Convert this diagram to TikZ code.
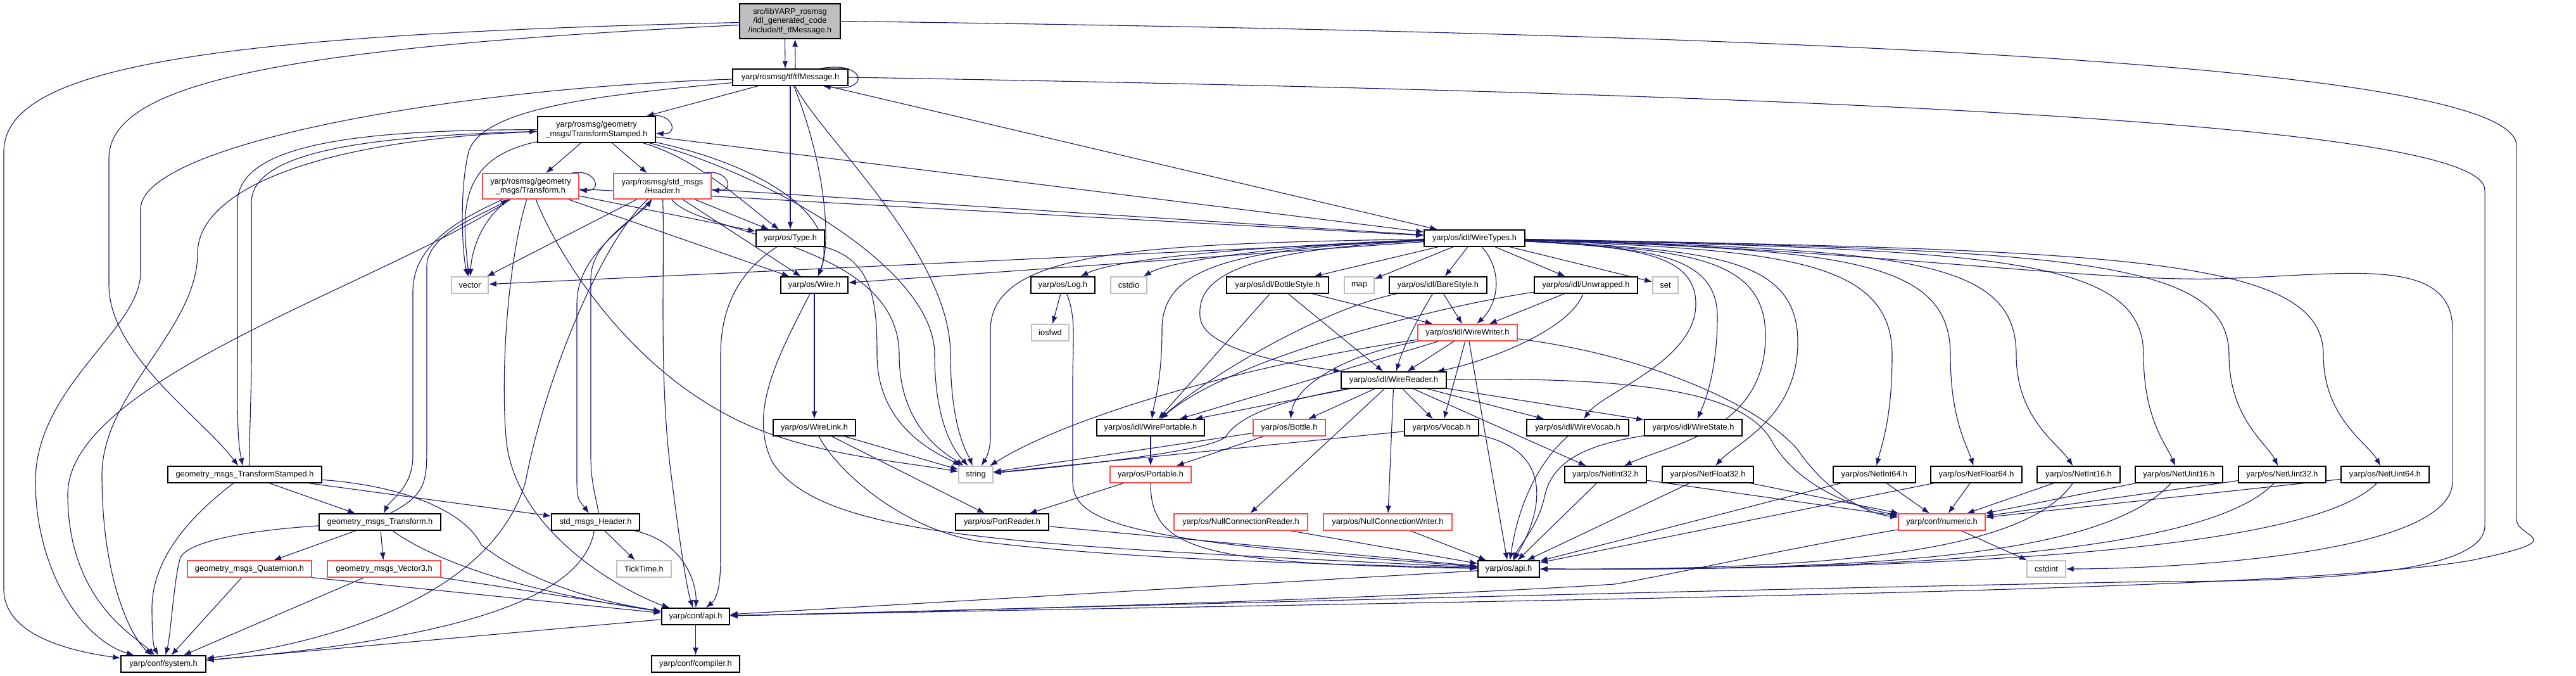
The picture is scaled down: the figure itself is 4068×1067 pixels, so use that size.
\documentclass[tikz,border=0pt]{standalone}
\usepackage{fontspec}
\setmainfont{Liberation Sans}
\usetikzlibrary{arrows.meta,backgrounds}
\definecolor{edgeblue}{HTML}{191970}
\definecolor{nodered}{HTML}{FF4A4A}
\definecolor{nodegray}{HTML}{BFBFBF}
\definecolor{rootgray}{HTML}{BFBFBF}
\newcommand\nfont{\fontsize{12.8pt}{14.5pt}\selectfont}
\tikzset{
  nb/.style={draw=black, line width=1.4pt, fill=white, inner sep=0pt, align=center, font=\nfont, minimum height=26pt},
  nred/.style={nb, draw=nodered},
  ngry/.style={nb, draw=nodegray},
  e/.style={draw=edgeblue, line width=1.1pt, -{Latex[length=12pt,width=9pt]}},
}
\begin{document}
\begin{tikzpicture}[x=1pt,y=-1pt]
\useasboundingbox (0,0) rectangle (4068,1067);

% ---------------- nodes ----------------
\node[nb, fill=rootgray, minimum width=159pt, minimum height=55pt] (root) at (1247.5,33.5) {src/libYARP\_rosmsg\\/idl\_generated\_code\\/include/tf\_tfMessage.h};
\node[nb, minimum width=182pt] (tfMsg) at (1248,122) {yarp/rosmsg/tf/tfMessage.h};
\node[nb, minimum width=186pt, minimum height=41pt] (rTS) at (942,204.5) {yarp/rosmsg/geometry\\\_msgs/TransformStamped.h};
\node[nred, minimum width=152pt, minimum height=40pt] (rT) at (838,294) {yarp/rosmsg/geometry\\\_msgs/Transform.h};
\node[nred, minimum width=154pt, minimum height=40pt] (rH) at (1046,294) {yarp/rosmsg/std\_msgs\\/Header.h};
\node[nb, minimum width=108pt] (Type) at (1248,376) {yarp/os/Type.h};
\node[nb, minimum width=159pt] (WireTypes) at (2328.5,376) {yarp/os/idl/WireTypes.h};
\node[ngry, minimum width=58pt] (vector) at (742,450) {vector};
\node[nb, minimum width=106pt] (Wire) at (1286,450) {yarp/os/Wire.h};
\node[nb, minimum width=101pt] (Log) at (1678.5,450) {yarp/os/Log.h};
\node[ngry, minimum width=57pt] (cstdio) at (1782.5,450) {cstdio};
\node[nb, minimum width=161pt] (BottleStyle) at (2017.5,450) {yarp/os/idl/BottleStyle.h};
\node[ngry, minimum width=47pt] (map) at (2146.5,450) {map};
\node[nb, minimum width=154pt] (BareStyle) at (2271,450) {yarp/os/idl/BareStyle.h};
\node[nb, minimum width=163pt] (Unwrapped) at (2504.5,450) {yarp/os/idl/Unwrapped.h};
\node[ngry, minimum width=40pt] (set) at (2630,450) {set};
\node[ngry, minimum width=59pt] (iosfwd) at (1658.5,525) {iosfwd};
\node[nred, minimum width=157pt] (WireWriter) at (2317.5,525) {yarp/os/idl/WireWriter.h};
\node[nb, minimum width=166pt] (WireReader) at (2201,600) {yarp/os/idl/WireReader.h};
\node[nb, minimum width=130pt] (WireLink) at (1286,675) {yarp/os/WireLink.h};
\node[nb, minimum width=170pt] (WirePortable) at (1817,675) {yarp/os/idl/WirePortable.h};
\node[nred, minimum width=114pt] (Bottle) at (2036,675) {yarp/os/Bottle.h};
\node[nb, minimum width=117pt] (Vocab) at (2276.5,675) {yarp/os/Vocab.h};
\node[nb, minimum width=161pt] (WireVocab) at (2491.5,675) {yarp/os/idl/WireVocab.h};
\node[nb, minimum width=154pt] (WireState) at (2674,675) {yarp/os/idl/WireState.h};
\node[nb, minimum width=243pt] (gTS) at (386.5,749) {geometry\_msgs\_TransformStamped.h};
\node[ngry, minimum width=54pt] (string) at (1541,749) {string};
\node[nred, minimum width=128pt] (Portable) at (1817,749) {yarp/os/Portable.h};
\node[nb, minimum width=129pt] (NetInt32) at (2535.5,749) {yarp/os/NetInt32.h};
\node[nb, minimum width=144pt] (NetFloat32) at (2697,749) {yarp/os/NetFloat32.h};
\node[nb, minimum width=130pt] (NetInt64) at (2960,749) {yarp/os/NetInt64.h};
\node[nb, minimum width=144pt] (NetFloat64) at (3121,749) {yarp/os/NetFloat64.h};
\node[nb, minimum width=131pt] (NetInt16) at (3282.5,749) {yarp/os/NetInt16.h};
\node[nb, minimum width=138pt] (NetUint16) at (3441,749) {yarp/os/NetUint16.h};
\node[nb, minimum width=138pt] (NetUint32) at (3604,749) {yarp/os/NetUint32.h};
\node[nb, minimum width=139pt] (NetUint64) at (3766.5,749) {yarp/os/NetUint64.h};
\node[nb, minimum width=192pt] (gT) at (600,824) {geometry\_msgs\_Transform.h};
\node[nb, minimum width=139pt] (sH) at (940.5,824) {std\_msgs\_Header.h};
\node[nb, minimum width=147pt] (PortReader) at (1582.5,824) {yarp/os/PortReader.h};
\node[nred, minimum width=211pt] (NCR) at (1959.5,824) {yarp/os/NullConnectionReader.h};
\node[nred, minimum width=203pt] (NCW) at (2191.5,824) {yarp/os/NullConnectionWriter.h};
\node[nred, minimum width=137pt] (numeric) at (3066.5,824) {yarp/conf/numeric.h};
\node[nred, minimum width=196pt] (gQ) at (394,898) {geometry\_msgs\_Quaternion.h};
\node[nred, minimum width=179pt] (gV) at (606.5,898) {geometry\_msgs\_Vector3.h};
\node[ngry, minimum width=86pt] (TickTime) at (1017,898) {TickTime.h};
\node[nb, minimum width=97pt] (osapi) at (2382.5,898) {yarp/os/api.h};
\node[ngry, minimum width=61pt] (cstdint) at (3231.5,898) {cstdint};
\node[nb, minimum width=107pt] (confapi) at (1098.5,973) {yarp/conf/api.h};
\node[nb, minimum width=134pt] (system) at (258,1048) {yarp/conf/system.h};
\node[nb, minimum width=139pt] (compiler) at (1098.5,1048) {yarp/conf/compiler.h};

\begin{scope}[on background layer]
\fill[white] (0,0) rectangle (4068,1067);
% root
\draw[e] ([xshift=-8pt]root.south) -- ([xshift=-8pt]tfMsg.north);
\draw[e] ([xshift=8pt]tfMsg.north) -- ([xshift=8pt]root.south);
\draw[e] ([yshift=-2pt]root.west) .. controls (300,55) and (6,110) .. (6,240) -- (6,930) .. controls (6,995) and (90,1025) .. (system);
\draw[e] ([yshift=-6pt]root.west) .. controls (450,75) and (172,130) .. (172,250) -- (172,450) .. controls (172,560) and (320,660) .. (gTS);
\draw[e] (root.east) .. controls (3000,55) and (3974,110) .. (3974,230) -- (3974,820) .. controls (3974,850) and (4070,850) .. (3900,885) .. controls (3600,935) and (2500,945) .. (confapi);
% tfMsg
\draw[e] (tfMsg.east) .. controls (3000,150) and (3924,200) .. (3924,300) -- (3924,830) .. controls (3924,900) and (3700,918) .. (3400,918) .. controls (2500,935) and (1600,962) .. (confapi);
\draw[e] ([xshift=-45pt]tfMsg.north east) .. controls +(75,-14) and +(75,12) .. ([xshift=-40pt]tfMsg.south east);
\draw[e] (tfMsg) -- (rTS);
\draw[e] (tfMsg) -- (Type);
\draw[e] (tfMsg) .. controls (1300,250) and (1315,380) .. (Wire);
\draw[e] (tfMsg) .. controls (1300,220) and (1501,400) .. (1501,560) .. controls (1501,680) and (1530,720) .. (string);
\draw[e] (tfMsg) .. controls (950,150) and (760,170) .. (740,240) .. controls (725,300) and (730,400) .. (vector);
\draw[e] (tfMsg) -- (WireTypes);
\draw[e] (tfMsg) .. controls (700,140) and (222,230) .. (222,330) -- (222,430) .. controls (222,520) and (56,610) .. (56,760) .. controls (56,900) and (130,1010) .. (system);
% rTS
\draw[e] (rTS) -- (rT);
\draw[e] (rTS) -- (rH);
\draw[e] ([xshift=-12pt]rTS.north east) .. controls +(38,-8) and +(38,2) .. ([yshift=-6pt]rTS.east);
\draw[e] (rTS) .. controls (1100,250) and (1175,320) .. (Type);
\draw[e] (rTS) .. controls (1200,260) and (1330,340) .. (Wire);
\draw[e] (rTS) -- (WireTypes);
\draw[e] (rTS) .. controls (720,250) and (730,340) .. (vector);
\draw[e] (rTS) .. controls (1200,270) and (1476,420) .. (1476,560) .. controls (1476,680) and (1515,720) .. (string);
\draw[e] (rTS) .. controls (600,205) and (375,220) .. (375,320) -- (375,620) .. controls (375,690) and (378,710) .. (gTS);
\draw[e] ([xshift=7pt]gTS.north) .. controls (394,680) and (397,620) .. (397,560) -- (397,320) .. controls (397,235) and (600,215) .. (rTS);
\draw[e] (rTS) .. controls (500,220) and (312,300) .. (312,400) .. controls (312,520) and (161,620) .. (161,750) .. controls (161,920) and (210,1010) .. (system);
% rT
\draw[e] ([xshift=-12pt]rT.north east) .. controls +(38,-8) and +(38,2) .. ([yshift=-6pt]rT.east);
\draw[e] (rT) .. controls (765,340) and (745,390) .. (vector);
\draw[e] (rT) -- (Type);
\draw[e] (rT) -- (Wire);
\draw[e] (rT) -- (WireTypes);
\draw[e] (rT) .. controls (740,340) and (652,380) .. (652,460) -- (652,720) .. controls (652,770) and (615,790) .. (gT);
\draw[e] ([xshift=16pt]gT.north) .. controls (674,780) and (674,760) .. (674,700) -- (674,420) .. controls (674,370) and (760,340) .. (rT);
\draw[e] (rT) .. controls (600,450) and (107,600) .. (107,780) .. controls (107,950) and (215,1005) .. (system);
\draw[e] (rT) .. controls (800,420) and (790,600) .. (800,700) .. controls (820,850) and (1000,940) .. (confapi);
\draw[e] (rT) .. controls (880,400) and (980,560) .. (1134,647) .. controls (1250,715) and (1400,725) .. (string);
% rH
\draw[e] ([xshift=-12pt]rH.north east) .. controls +(38,-8) and +(38,2) .. ([yshift=-6pt]rH.east);
\draw[e] (rH) -- (vector);
\draw[e] (rH) -- (Type);
\draw[e] (rH) -- (Wire);
\draw[e] (rH) -- (WireTypes);
\draw[e] (rH) .. controls (1100,370) and (1420,380) .. (1420,560) .. controls (1420,680) and (1500,720) .. (string);
\draw[e] (rH) .. controls (990,360) and (911,400) .. (911,480) -- (911,760) .. controls (911,790) and (915,790) .. (sH);
\draw[e] ([xshift=5pt]sH.north) .. controls (940,780) and (933,760) .. (933,720) -- (933,440) .. controls (933,380) and (1010,340) .. (rH);
\draw[e] (rH) .. controls (950,380) and (860,600) .. (830,760) .. controls (780,930) and (550,1010) .. (system);
\draw[e] (rH) .. controls (1050,420) and (1040,600) .. (1060,750) .. controls (1075,870) and (1085,930) .. (confapi);
% Type
\draw[e] (Type) .. controls (1380,410) and (1385,480) .. (1385,560) .. controls (1385,680) and (1490,720) .. (string);
\draw[e] (Type) .. controls (1180,420) and (1138,470) .. (1138,560) -- (1138,880) .. controls (1138,925) and (1132,945) .. (confapi);
% Wire, WireLink, Log
\draw[e] (Wire) -- (WireLink);
\draw[e] (Wire) .. controls (1230,560) and (1180,650) .. (1220,730) .. controls (1300,850) and (1600,860) .. (osapi);
\draw[e] (WireLink) -- (string);
\draw[e] (WireLink) -- (PortReader);
\draw[e] (WireLink) .. controls (1320,740) and (1420,835) .. (1550,855) .. controls (1800,885) and (2100,890) .. (osapi);
\draw[e] (Log) -- (iosfwd);
\draw[e] (Log) .. controls (1700,500) and (1694,540) .. (1694,600) -- (1694,760) .. controls (1694,830) and (1800,855) .. (osapi);
% WireTypes
\draw[e] (WireTypes) -- (vector);
\draw[e] (WireTypes) -- (Wire);
\draw[e] (WireTypes) .. controls (1950,390) and (1760,410) .. (Log);
\draw[e] (WireTypes) .. controls (2050,385) and (1850,410) .. (cstdio);
\draw[e] (WireTypes) -- (BottleStyle);
\draw[e] (WireTypes) -- (map);
\draw[e] (WireTypes) -- (BareStyle);
\draw[e] (WireTypes) -- (Unwrapped);
\draw[e] (WireTypes) -- (set);
\draw[e] (WireTypes) .. controls (2375,430) and (2365,480) .. (WireWriter);
\draw[e] (WireTypes) .. controls (1950,395) and (1890,440) .. (1895,500) .. controls (1900,560) and (2080,580) .. (WireReader);
\draw[e] (WireTypes) .. controls (1950,392) and (1835,420) .. (1835,520) .. controls (1835,600) and (1822,640) .. (WirePortable);
\draw[e] (WireTypes) .. controls (1800,385) and (1566,395) .. (1564,520) -- (1564,690) .. controls (1564,712) and (1556,725) .. (string);
\draw[e] (WireTypes) .. controls (2580,390) and (2678,400) .. (2678,480) .. controls (2678,570) and (2530,620) .. (WireVocab);
\draw[e] (WireTypes) .. controls (2600,392) and (2712,400) .. (2712,500) .. controls (2712,590) and (2690,640) .. (WireState);
\draw[e] (WireTypes) .. controls (2650,395) and (2788,400) .. (2788,530) .. controls (2788,680) and (2640,700) .. (NetInt32);
\draw[e] (WireTypes) .. controls (2700,395) and (2839,405) .. (2839,540) .. controls (2839,660) and (2740,700) .. (NetFloat32);
\draw[e] (WireTypes) .. controls (2800,395) and (2988,405) .. (2988,560) .. controls (2988,660) and (2972,700) .. (NetInt64);
\draw[e] (WireTypes) .. controls (2900,395) and (3080,405) .. (3080,560) .. controls (3080,660) and (3105,700) .. (NetFloat64);
\draw[e] (WireTypes) .. controls (3000,395) and (3184,405) .. (3184,560) .. controls (3184,660) and (3250,700) .. (NetInt16);
\draw[e] (WireTypes) .. controls (3150,395) and (3385,405) .. (3385,560) .. controls (3385,660) and (3420,700) .. (NetUint16);
\draw[e] (WireTypes) .. controls (3250,395) and (3520,405) .. (3520,560) .. controls (3520,660) and (3580,700) .. (NetUint32);
\draw[e] (WireTypes) .. controls (3350,395) and (3669,405) .. (3669,560) .. controls (3669,660) and (3740,700) .. (NetUint64);
\draw[e] (WireTypes) .. controls (2900,390) and (3300,445) .. (3500,440) .. controls (3700,435) and (3873,400) .. (3873,520) -- (3873,760) .. controls (3873,880) and (3400,898) .. (cstdint);
% style headers
\draw[e] (BottleStyle) -- (WirePortable);
\draw[e] (BottleStyle) -- (WireReader);
\draw[e] (BottleStyle) -- (WireWriter);
\draw[e] (BareStyle) .. controls (2080,490) and (1900,600) .. (WirePortable);
\draw[e] (BareStyle) .. controls (2240,500) and (2215,550) .. (WireReader);
\draw[e] (BareStyle) -- (WireWriter);
\draw[e] (Unwrapped) .. controls (2300,478) and (1950,560) .. (WirePortable);
\draw[e] (Unwrapped) -- (WireWriter);
\draw[e] (Unwrapped) .. controls (2480,520) and (2350,570) .. (WireReader);
% WireWriter
\draw[e] (WireWriter) -- (WirePortable);
\draw[e] (WireWriter) .. controls (2000,570) and (1700,650) .. (string);
\draw[e] (WireWriter) -- (WireReader);
\draw[e] (WireWriter) .. controls (2120,560) and (2045,610) .. (Bottle);
\draw[e] (WireWriter) -- (Vocab);
\draw[e] (WireWriter) -- (osapi);
\draw[e] (WireWriter) .. controls (2600,560) and (2780,640) .. (2839,710) .. controls (2880,770) and (2940,810) .. (numeric);
% WireReader
\draw[e] (WireReader) -- (WirePortable);
\draw[e] (WireReader) .. controls (2040,630) and (1960,650) .. (1935,690) .. controls (1910,712) and (1700,735) .. (string);
\draw[e] (WireReader) -- (Bottle);
\draw[e] (WireReader) -- (NCR);
\draw[e] (WireReader) -- (NCW);
\draw[e] (WireReader) -- (Vocab);
\draw[e] (WireReader) -- (WireVocab);
\draw[e] (WireReader) -- (WireState);
\draw[e] (WireReader) -- (NetInt32);
\draw[e] (WireReader) .. controls (2600,595) and (2760,620) .. (2800,700) .. controls (2850,780) and (2950,805) .. (numeric);
% lower middle
\draw[e] (Bottle) -- (string);
\draw[e] (Bottle) -- (Portable);
\draw[e] (Vocab) -- (string);
\draw[e] (Vocab) .. controls (2450,710) and (2440,800) .. (osapi);
\draw[e] (WirePortable) -- (Portable);
\draw[e] (Portable) -- (PortReader);
\draw[e] (Portable) .. controls (1817,870) and (1900,890) .. (osapi);
\draw[e] (PortReader) -- (osapi);
\draw[e] (NCR) -- (osapi);
\draw[e] (NCW) -- (osapi);
\draw[e] (WireVocab) .. controls (2440,720) and (2400,780) .. (osapi);
\draw[e] (WireState) .. controls (2520,700) and (2455,720) .. (2440,780) .. controls (2430,830) and (2400,860) .. (osapi);
% Net headers
\draw[e] (NetInt32) -- (numeric);
\draw[e] (NetFloat32) -- (numeric);
\draw[e] (NetInt64) -- (numeric);
\draw[e] (NetFloat64) -- (numeric);
\draw[e] (NetInt16) -- (numeric);
\draw[e] (NetUint16) -- (numeric);
\draw[e] (NetUint32) -- (numeric);
\draw[e] (NetUint64) -- (numeric);
\draw[e] (NetInt32) -- (osapi);
\draw[e] (NetFloat32) -- (osapi);
\draw[e] (NetInt64) -- (osapi);
\draw[e] (NetFloat64) -- (osapi);
\draw[e] (NetInt16) .. controls (3200,870) and (2900,900) .. (osapi);
\draw[e] (NetUint16) .. controls (3320,880) and (2950,900) .. (osapi);
\draw[e] (NetUint32) .. controls (3480,880) and (2950,900) .. (osapi);
\draw[e] (NetUint64) .. controls (3640,880) and (2950,900) .. (osapi);
\draw[e] (numeric) -- (cstdint);
\draw[e] (numeric) .. controls (2800,870) and (2650,905) .. (2550,922) .. controls (2200,945) and (1500,965) .. (confapi);
\draw[e] (osapi) -- (confapi);
% deprecated headers
\draw[e] (gTS) -- (gT);
\draw[e] (gTS) -- (sH);
\draw[e] (gTS) .. controls (320,800) and (240,870) .. (240,960) .. controls (240,1000) and (242,1020) .. (system);
\draw[e] (gTS) .. controls (620,765) and (730,800) .. (760,860) .. controls (850,930) and (980,955) .. (confapi);
\draw[e] (gT) -- (gQ);
\draw[e] (gT) -- (gV);
\draw[e] (gT) .. controls (420,835) and (300,850) .. (285,880) .. controls (275,910) and (270,1000) .. (system);
\draw[e] (gT) .. controls (680,880) and (800,930) .. (confapi);
\draw[e] (sH) -- (TickTime);
\draw[e] (sH) .. controls (1080,855) and (1100,920) .. (confapi);
\draw[e] (sH) .. controls (920,950) and (700,1010) .. (system);
\draw[e] (gQ) -- (system);
\draw[e] (gQ.south east) -- (confapi);
\draw[e] (gV) -- (system);
\draw[e] (gV) -- (confapi);
\draw[e] (confapi) -- (system);
\draw[e] (confapi) -- (compiler);
\end{scope}
\end{tikzpicture}
\end{document}
